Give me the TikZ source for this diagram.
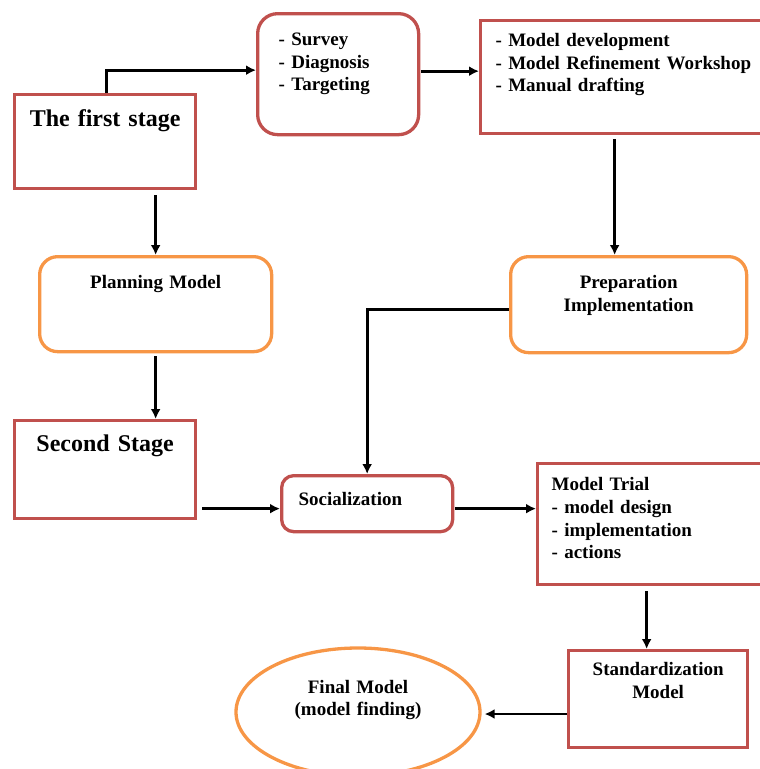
\documentclass[tikz,border=0pt]{standalone}
\usepackage{fontspec}
\setmainfont{Liberation Serif}
\usetikzlibrary{arrows.meta,calc,shapes.geometric}
\definecolor{boxred}{HTML}{C0504D}
\definecolor{boxorange}{HTML}{F79646}

\begin{document}
\begin{tikzpicture}[x=1pt,y=-1pt]
        \tikzstyle{every node}=[inner ysep=0pt, font=\bfseries\fontsize{19}{22.5}\selectfont]
        \tikzstyle{redbox}=[draw=boxred, line width=3.3pt, anchor=north west]
        \tikzstyle{orangebox}=[draw=boxorange, line width=3.3pt, anchor=north west, rounded corners=18pt]
        \tikzstyle{stagefont}=[font=\bfseries\fontsize{24}{28}\selectfont]
        \tikzstyle{link}=[line width=2.7pt, -{Latex[length=10pt,width=10pt]}]
        \useasboundingbox (0,0) rectangle (760,769);

        % first stage and its steps
        \node[redbox, stagefont, text width=171pt, inner xsep=5pt, align=center, text height=32pt, text depth=62pt] (first) at (13,93) {The first stage};
        \node[redbox, rounded corners=20pt, text width=119pt, inner xsep=21pt, align=left, text height=32pt, text depth=89pt] (survey) at (256,12) {- Survey\\- Diagnosis\\- Targeting};
        \node[redbox, text width=260pt, inner xsep=15pt, align=left, text height=26pt, text depth=87pt] (develop) at (479,19) {- Model development\\- Model Refinement Workshop\\- Manual drafting};
        \node[orangebox, text width=222pt, inner xsep=5pt, align=center, text height=32pt, text depth=63pt] (planning) at (38,255) {Planning Model};
        \node[orangebox, text width=226pt, inner xsep=5pt, align=center, text height=32pt, text depth=64pt] (prepare) at (509,255) {Preparation\\Implementation};

        % second stage
        \node[redbox, stagefont, text width=171pt, inner xsep=5pt, align=center, text height=31pt, text depth=67pt] (second) at (13,419) {Second Stage};
        \node[redbox, rounded corners=12pt, text width=137pt, inner xsep=17pt, align=left, text height=30pt, text depth=26pt] (social) at (280,474) {Socialization};
        \node[redbox, text width=210pt, inner xsep=14pt, align=left, text height=27pt, text depth=94pt, font=\bfseries\fontsize{19}{22.7}\selectfont] (trial) at (536,462) {Model Trial\\- model design\\- implementation\\- actions};
        \node[redbox, text width=169pt, inner xsep=5pt, align=center, text height=25pt, text depth=72pt] (standard) at (567,649) {Standardization\\Model};
        \node[draw=boxorange, line width=3.3pt, ellipse, inner sep=0pt, minimum width=244pt, minimum height=128pt, text width=160pt, align=center, text height=10pt, text depth=48pt] (final) at (358,712) {Final Model\\(model finding)};

        % connectors
        \draw[link] ($(first.north)+(1.5,0)$) |- ([yshift=4pt]survey.west);
        \draw[link] ($(survey.east)+(1,-3)$) -- ($(survey.east -| develop.west)+(0,-3)$);
        \draw[link] ($(develop.south)+(-11,4)$) -- ($(develop.south |- prepare.north)+(-11,0)$);
        \draw[link] ($(first.south -| planning.north)+(0,5)$) -- (planning.north);
        \draw[link] ([yshift=-5pt]prepare.west) -| (social.north);
        \draw[link] ($(planning.south)+(0,3)$) -- (planning.south |- second.north);
        \draw[link] ($(second.east |- social.west)+(5,5)$) -- ($(social.west)+(0,5)$);
        \draw[link] ($(social.east)+(1,5)$) -- ($(social.east -| trial.west)+(0,5)$);
        \draw[link] ($(trial.south)+(-10,5)$) -- ($(trial.south |- standard.north)+(-10,0)$);
        \draw[link] ($(standard.west |- final.east)+(0,2)$) -- ($(final.east)+(3,2)$);
\end{tikzpicture}
\end{document}
